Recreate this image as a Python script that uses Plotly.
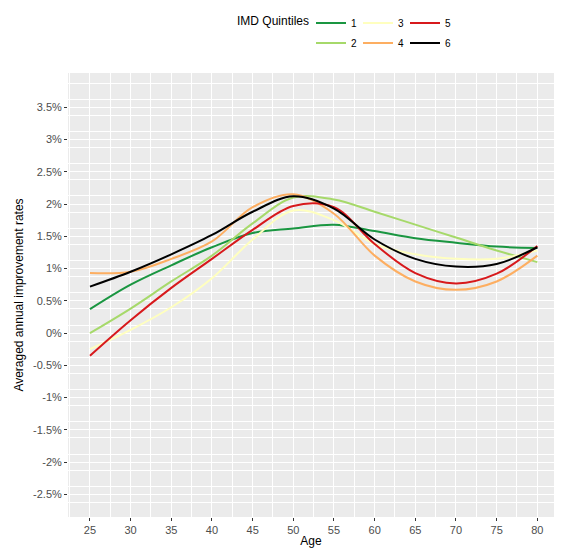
import plotly.graph_objects as go

ages = [25, 30, 35, 40, 45, 50, 55, 60, 65, 70, 75, 80]
q1 = [0.37, 0.75, 1.05, 1.33, 1.55, 1.62, 1.68, 1.58, 1.47, 1.40, 1.34, 1.32]
q2 = [0.00, 0.38, 0.80, 1.20, 1.70, 2.10, 2.07, 1.88, 1.68, 1.48, 1.28, 1.10]
q3 = [-0.25, 0.05, 0.40, 0.85, 1.45, 1.90, 1.75, 1.38, 1.22, 1.15, 1.15, 1.28]
q4 = [0.93, 0.95, 1.15, 1.42, 1.95, 2.15, 1.85, 1.20, 0.80, 0.67, 0.80, 1.20]
q5 = [-0.35, 0.20, 0.70, 1.15, 1.60, 1.97, 1.95, 1.38, 0.93, 0.77, 0.92, 1.35]
q6 = [0.72, 0.95, 1.22, 1.52, 1.88, 2.12, 1.93, 1.45, 1.15, 1.03, 1.07, 1.33]

series = [("1", q1, "#1a9641", "legend"), ("2", q2, "#a6d96a", "legend2"),
          ("3", q3, "#ffffbf", "legend"), ("4", q4, "#fdae61", "legend2"),
          ("5", q5, "#d7191c", "legend"), ("6", q6, "#000000", "legend2")]

fig = go.Figure()
for name, vals, col, lg in series:
    fig.add_trace(go.Scatter(x=ages, y=[v / 100 for v in vals], name=name, mode="lines",
                             line=dict(color=col, width=2, shape="spline", smoothing=1.0),
                             legend=lg))

yt = [i * 0.005 for i in range(-5, 8)]
ytext = [(("%g" % (v * 100)) + "%") for v in yt]
leg = dict(orientation="h", xanchor="left", yanchor="top", entrywidth=2, itemwidth=30,
           font=dict(size=10, color="black"), bgcolor="rgba(0,0,0,0)")
fig.update_layout(
    width=547, height=540, paper_bgcolor="white", plot_bgcolor="#EBEBEB",
    font=dict(family="Liberation Sans, Arial", size=11, color="#4d4d4d"),
    margin=dict(l=60, r=1, t=60, b=26),
    legend=dict(leg, x=0.5, y=1.145),
    legend2=dict(leg, x=0.5, y=1.10),
    annotations=[dict(text="IMD Quintiles", x=0.5, y=1.118, xref="paper", yref="paper",
                      xanchor="right", yanchor="middle", showarrow=False,
                      font=dict(size=12, color="black"))],
    xaxis=dict(range=[22.3, 82.05], tickvals=ages, gridcolor="white", gridwidth=1.2,
               minor=dict(dtick=2.5, tick0=22.5, gridcolor="white", gridwidth=0.5),
               zeroline=False, ticks="outside", ticklen=3, tickcolor="#333",
               title=dict(text="Age", font=dict(size=12, color="black"), standoff=2)),
    yaxis=dict(range=[-0.0285, 0.0403], tickvals=yt, ticktext=ytext, gridcolor="white",
               gridwidth=1.2, minor=dict(dtick=0.0025, tick0=0.00125, gridcolor="white", gridwidth=0.5),
               zeroline=False, ticks="outside", ticklen=3, tickcolor="#333",
               title=dict(text="Averaged annual improvement rates", font=dict(size=12, color="black"), standoff=6)),
)
fig.write_html("out.html")
